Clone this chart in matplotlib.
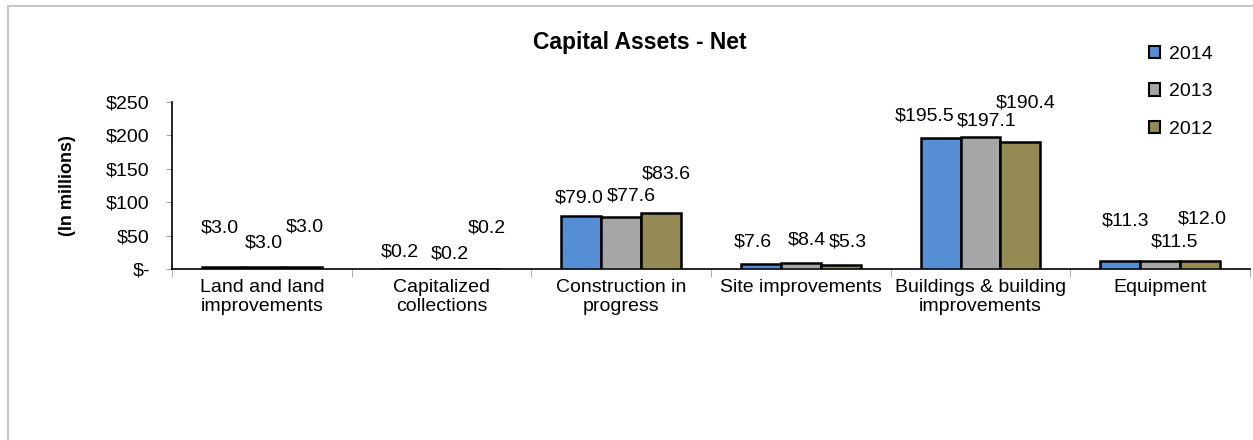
import matplotlib
matplotlib.use('Agg')
import matplotlib.pyplot as plt
from matplotlib.patches import Rectangle, Patch
import numpy as np

plt.rcParams['font.family'] = ['Liberation Sans', 'DejaVu Sans']

categories = ['Land and land\nimprovements', 'Capitalized\ncollections', 'Construction in\nprogress',
              'Site improvements', 'Buildings & building\nimprovements', 'Equipment']
years = ['2014', '2013', '2012']
v2014 = [3.0, 0.2, 79.0, 7.6, 195.5, 11.3]
v2013 = [3.0, 0.2, 77.6, 8.4, 197.1, 11.5]
v2012 = [3.0, 0.2, 83.6, 5.3, 190.4, 12.0]
values = [v2014, v2013, v2012]
colors = ['#558ED5', '#A6A6A6', '#948A54']

# where the data labels sit (the original has them hand-placed)
label_y = [[61, 25, 106, 40, 229, 72],
           [39, 23, 109, 43, 221, 40],
           [63, 62, 142, 40, 248, 75]]
label_dx = [[-2, -2, -2, -8, -16, 5],
            [2, 8, 10, 6, 6, 14],
            [3, 5, 5, 7, 5, 2]]

fig = plt.figure(figsize=(12.53, 4.4), dpi=100)
ax = fig.add_axes([172/1253, 171/440, 1078/1253, 167/440])

x = np.arange(len(categories))
w = 0.222
for i, (vals, c) in enumerate(zip(values, colors)):
    xs = x + (i - 1) * w
    ax.bar(xs, vals, w, color=c, edgecolor='black', linewidth=1.8, zorder=3)
    for j, xv in enumerate(xs):
        ax.annotate('$%.1f' % vals[j], (xv, label_y[i][j]), xytext=(label_dx[i][j] * 0.72, 0),
                    textcoords='offset points', ha='center', va='center', fontsize=14, color='black')

ax.set_xlim(-0.5, len(categories) - 0.5)
ax.set_ylim(0, 250)
ax.set_yticks([0, 50, 100, 150, 200, 250])
ax.set_yticklabels(['$-', '$50', '$100', '$150', '$200', '$250'])
ax.set_xticks(x)
ax.set_xticklabels(categories, linespacing=1.2)
ax.set_xticks(np.arange(-0.5, len(categories)), minor=True)
ax.tick_params(axis='x', which='major', length=0, pad=7, labelsize=14)
ax.tick_params(axis='x', which='minor', length=6, color='#A0A0A0', direction='out')
ax.tick_params(axis='y', length=4, color='#A0A0A0', labelsize=14, pad=12)
for s in ['top', 'right']:
    ax.spines[s].set_visible(False)
ax.spines['left'].set_color('black')
ax.spines['bottom'].set_color('black')
ax.spines['left'].set_linewidth(1.2)
ax.spines['bottom'].set_linewidth(1.2)

ax.set_ylabel('(In millions)', fontsize=13, fontweight='bold', labelpad=22)
fig.text(640/1253, 1 - 43/440, 'Capital Assets - Net', ha='center', va='center',
         fontsize=16.5, fontweight='bold')

handles = [Patch(facecolor=c, edgecolor='black', linewidth=1.5) for c in colors]
fig.legend(handles, years, loc='upper left', bbox_to_anchor=(1141/1253, 1 - 38/440),
           frameon=False, fontsize=14, handlelength=0.6, handleheight=0.6,
           handletextpad=0.45, labelspacing=1.05, borderaxespad=0)

fig.add_artist(Rectangle((7.5/1253, -0.1), 2, 1.1 - 6.5/440, transform=fig.transFigure,
                         fill=False, edgecolor='#C8C8C8', linewidth=1.5))

fig.savefig('out.png', dpi=100)
